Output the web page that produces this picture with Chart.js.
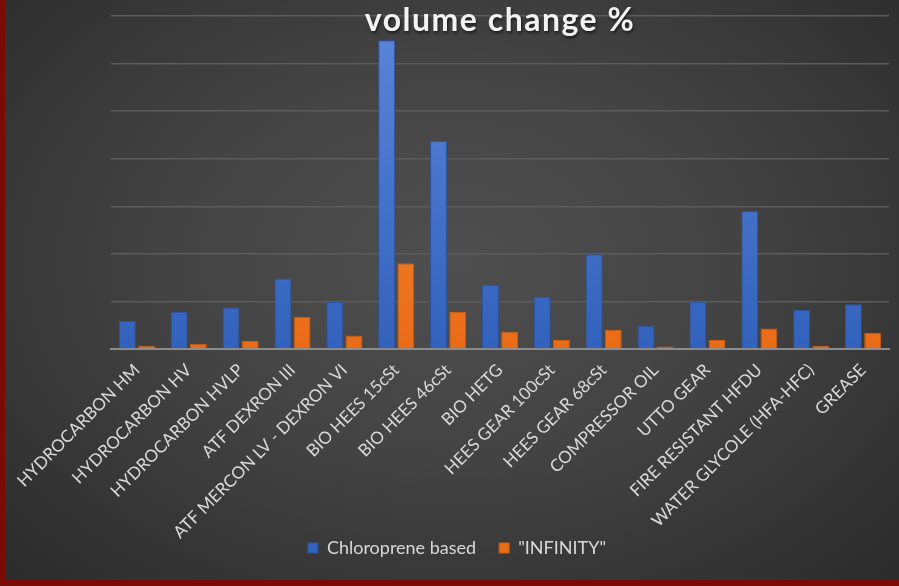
<!DOCTYPE html>
<html>
<head>
<meta charset="utf-8">
<script src="https://cdn.jsdelivr.net/npm/chart.js@4.4.1/dist/chart.umd.min.js"></script>
<style>
  html, body { margin: 0; padding: 0; }
  body { width: 899px; height: 586px; background: #7a0a05; position: relative; overflow: hidden; }
  #panel {
    position: absolute; left: 5px; top: 0; width: 894px; height: 580px;
    background: radial-gradient(ellipse at 50% 45%, #4f4f4f 0%, #434343 45%, #2b2b2b 100%);
  }
  #title {
    position: absolute; left: 106px; top: 0; width: 778px; text-align: center;
    font-family: Lato, "Open Sans", sans-serif; font-weight: bold; font-size: 32px;
    color: #f2f2f2; letter-spacing: 1.5px; line-height: 38px;
    text-shadow: 1px 2px 3px rgba(0,0,0,0.6);
  }
  canvas { position: absolute; left: 0; top: 0; }
</style>
</head>
<body>
<div id="panel">
  <canvas id="chart" width="894" height="580"></canvas>
  <div id="title">volume change %</div>
</div>
<script>
// categories and values (one grid step = 10)
const categories = [
  'HYDROCARBON HM', 'HYDROCARBON HV', 'HYDROCARBON HVLP', 'ATF DEXRON III',
  'ATF MERCON LV - DEXRON VI', 'BIO HEES 15cSt', 'BIO HEES 46cSt', 'BIO HETG',
  'HEES GEAR 100cSt', 'HEES GEAR 68cSt', 'COMPRESSOR OIL', 'UTTO GEAR',
  'FIRE RESISTANT HFDU', 'WATER GLYCOLE (HFA-HFC)', 'GREASE'
]
const chloropreneValues = [5.9, 7.8, 8.7, 14.8, 9.9, 64.9, 43.7, 13.5, 11.0, 19.9, 4.9, 9.9, 29.0, 8.2, 9.4]
const infinityValues = [0.7, 1.1, 1.7, 6.8, 2.8, 18.0, 7.8, 3.6, 1.9, 4.0, 0.5, 1.9, 4.3, 0.7, 3.4]
const yMax = 70
const yStep = 10

function barGradient(top, bottom) {
  return (ctx) => {
    const area = ctx.chart.chartArea
    if (!area) return bottom
    const g = ctx.chart.ctx.createLinearGradient(0, area.top, 0, area.bottom)
    g.addColorStop(0, top)
    g.addColorStop(1, bottom)
    return g
  }
}

// legend sits beside the long rotated labels, so lift it into the axis band
const legendLift = {
  id: 'legendLift',
  afterLayout(chart) {
    const lg = chart.legend
    lg.top = 516
    lg.bottom = 576
    lg.height = lg.bottom - lg.top
  }
}

const chart = new Chart(document.getElementById('chart').getContext('2d'), {
  type: 'bar',
  data: {
    labels: categories,
    datasets: [
      {
        label: 'Chloroprene based',
        data: chloropreneValues,
        backgroundColor: barGradient('#5b86d8', '#3262bd'),
        borderColor: '#2c54a3',
        borderWidth: 1,
        categoryPercentage: 0.74,
        barPercentage: 0.88
      },
      {
        label: '"INFINITY"',
        data: infinityValues,
        backgroundColor: barGradient('#f7923f', '#ea6b16'),
        borderColor: '#c95d14',
        borderWidth: 1,
        categoryPercentage: 0.74,
        barPercentage: 0.88
      }
    ]
  },
  options: {
    responsive: false,
    animation: false,
    layout: {
      padding: { left: 20, right: 10, top: 16, bottom: 0 }
    },
    scales: {
      y: {
        min: 0,
        max: yMax,
        ticks: { display: false, stepSize: yStep },
        border: { display: false },
        grid: { color: '#5c5c5c', lineWidth: 1.5, drawTicks: false },
        afterFit: (scale) => { scale.width = 86 }
      },
      x: {
        grid: { display: false },
        border: { display: true, color: '#8c8c8c', width: 2 },
        ticks: {
          color: '#d9d9d9',
          minRotation: 45,
          maxRotation: 45,
          autoSkip: false,
          padding: 3,
          font: { family: 'Lato', size: 17 }
        },
        afterFit: (scale) => { scale.height = 193 }
      }
    },
    plugins: {
      legend: {
        position: 'bottom',
        maxHeight: 38,
        labels: {
          color: '#d9d9d9',
          boxWidth: 10,
          boxHeight: 10,
          padding: 23,
          font: { family: 'Lato', size: 18 }
        }
      },
      tooltip: { enabled: false }
    }
  },
  plugins: [legendLift]
})
</script>
</body>
</html>
